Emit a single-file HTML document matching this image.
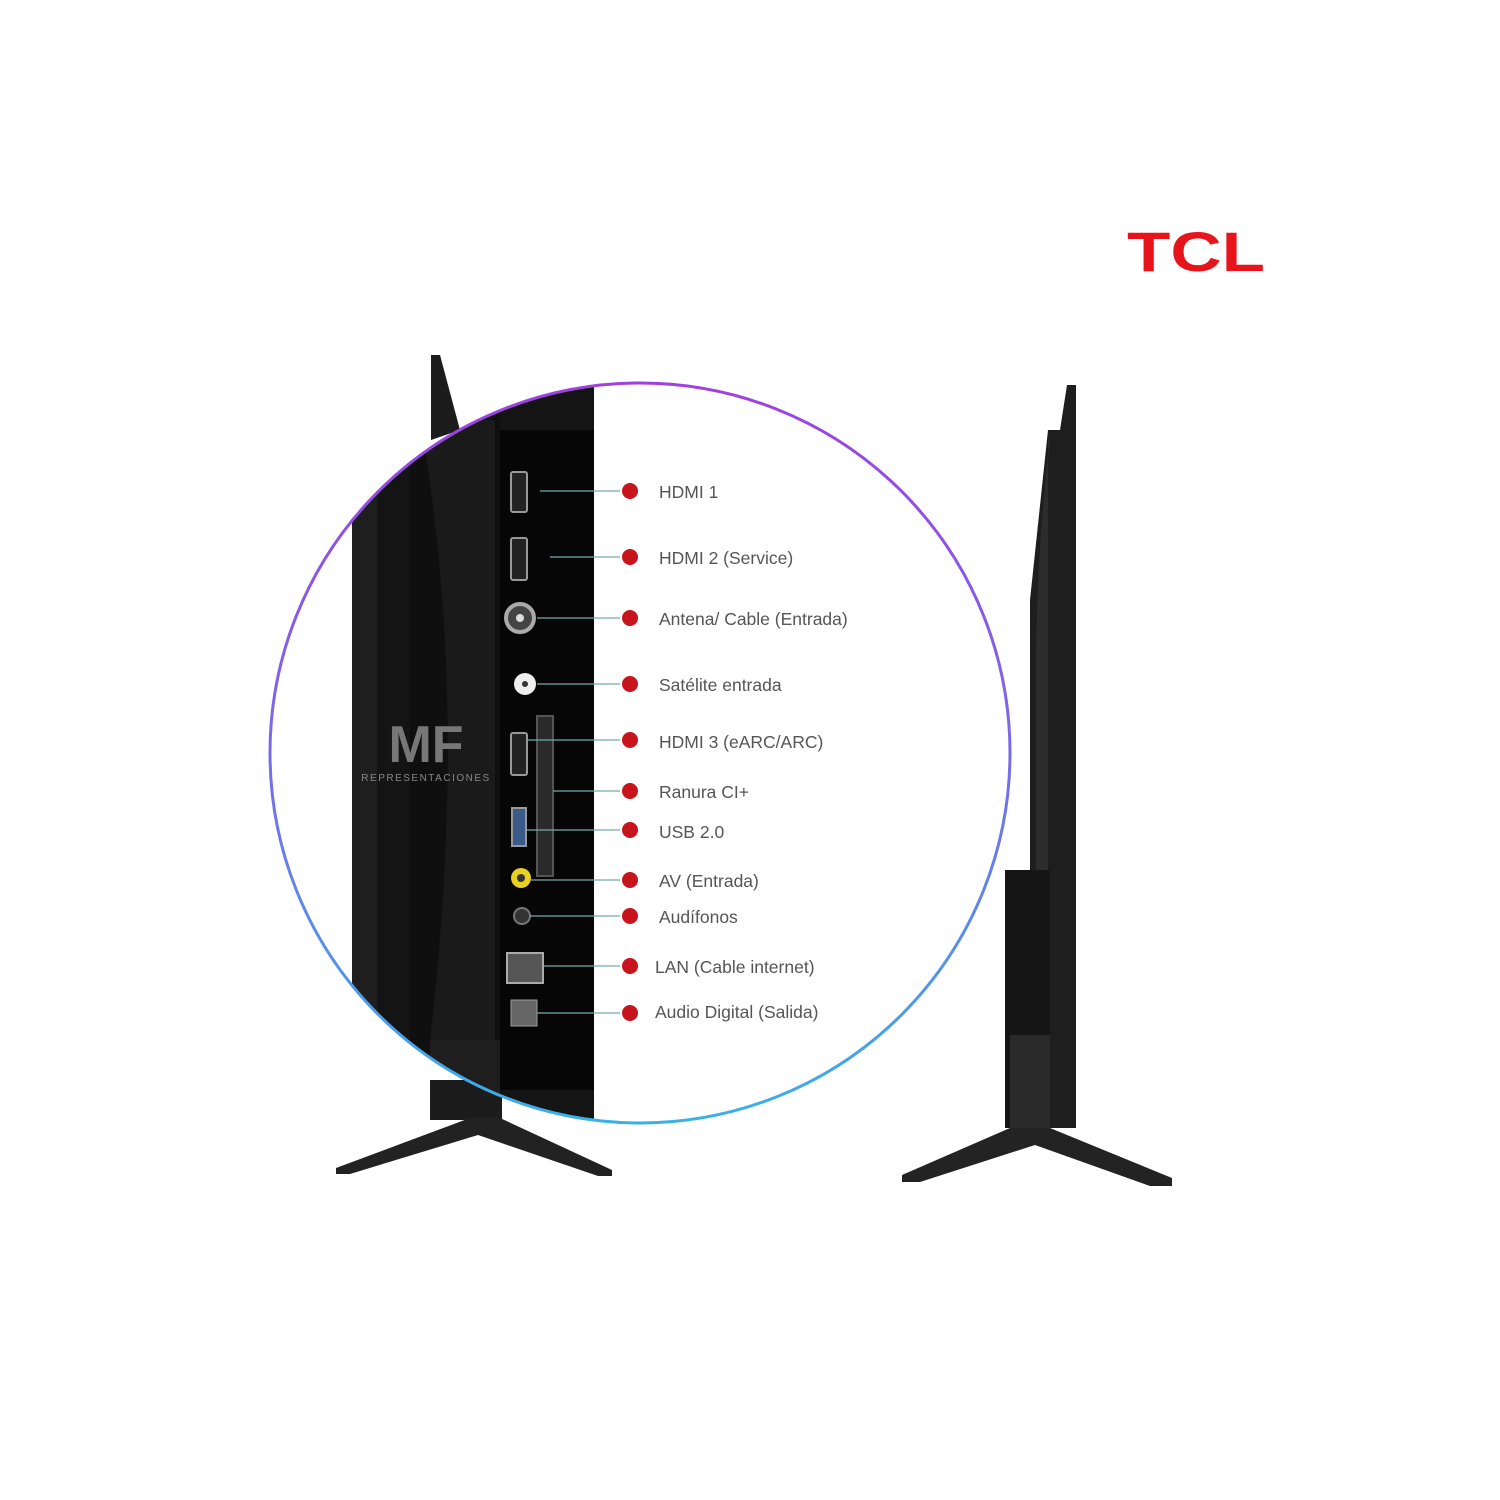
<!DOCTYPE html>
<html><head><meta charset="utf-8"><style>
html,body{margin:0;padding:0;background:#fff;width:1500px;height:1500px;overflow:hidden}
svg{display:block}
</style></head><body>
<svg width="1500" height="1500" viewBox="0 0 1500 1500" xmlns="http://www.w3.org/2000/svg">
<defs>
<linearGradient id="ring" x1="0" y1="0" x2="0" y2="1">
<stop offset="0" stop-color="#a040e0"/><stop offset="0.5" stop-color="#7a6ae8"/><stop offset="1" stop-color="#3ab0e8"/>
</linearGradient>
<clipPath id="cc"><circle cx="640" cy="753" r="370"/></clipPath>
</defs>
<text x="1196" y="271" text-anchor="middle" font-family="Liberation Sans, sans-serif" font-weight="bold" font-size="56" fill="#e8141c" textLength="138" lengthAdjust="spacingAndGlyphs">TCL</text>

<polygon points="431,355 440,355 460,430 431,440" fill="#1c1c1c"/>
<rect x="430" y="1080" width="72" height="40" fill="#1c1c1c"/>
<polygon points="336,1168 470,1118 500,1118 612,1170 612,1176 598,1176 478,1135 350,1174 336,1174" fill="#222"/>

<g clip-path="url(#cc)">
<path d="M352 1130 L352 500 Q390 440 470 410 L594 385 L594 1130 Z" fill="#141414"/>
<rect x="352" y="470" width="25" height="660" fill="#1e1e1e"/>
<rect x="410" y="400" width="90" height="730" fill="#0f0f0f"/>
<path d="M420 420 Q470 700 430 1040 L495 1040 L495 420 Z" fill="#1a1a1a"/>
<rect x="500" y="430" width="94" height="660" fill="#060606"/>
<rect x="430" y="1040" width="70" height="90" fill="#1e1e1e"/>
</g>
<circle cx="640" cy="753" r="370" fill="none" stroke="url(#ring)" stroke-width="3"/>

<g stroke="#999" fill="#222" stroke-width="2">
<rect x="511" y="472" width="16" height="40" rx="2"/>
<rect x="511" y="538" width="16" height="42" rx="2"/>
<rect x="511" y="733" width="16" height="42" rx="2"/>
<rect x="512" y="808" width="14" height="38" fill="#3a5a8a"/>
</g>
<circle cx="520" cy="618" r="14" fill="#444" stroke="#aaa" stroke-width="4"/>
<circle cx="520" cy="618" r="4" fill="#ddd"/>
<circle cx="525" cy="684" r="11" fill="#eee"/><circle cx="525" cy="684" r="3" fill="#333"/>
<circle cx="521" cy="878" r="10" fill="#e6d020"/><circle cx="521" cy="878" r="4" fill="#333"/>
<circle cx="522" cy="916" r="8" fill="#333" stroke="#777" stroke-width="2"/>
<rect x="507" y="953" width="36" height="30" fill="#555" stroke="#aaa" stroke-width="2"/>
<rect x="511" y="1000" width="26" height="26" fill="#666" stroke="#999" stroke-width="1"/>
<rect x="537" y="716" width="16" height="160" fill="#2a2a2a" stroke="#555" stroke-width="2"/>
<text x="426" y="762" text-anchor="middle" font-family="Liberation Sans, sans-serif" font-weight="bold" font-size="52" fill="#777">MF</text>
<text x="426" y="781" text-anchor="middle" font-family="Liberation Sans, sans-serif" font-size="10" letter-spacing="1.5" fill="#888">REPRESENTACIONES</text>

<g stroke="#7aa" stroke-width="1.2">
<line x1="540" y1="491" x2="620" y2="491"/>
<line x1="550" y1="557" x2="620" y2="557"/>
<line x1="537" y1="618" x2="620" y2="618"/>
<line x1="537" y1="684" x2="620" y2="684"/>
<line x1="527" y1="740" x2="620" y2="740"/>
<line x1="553" y1="791" x2="620" y2="791"/>
<line x1="527" y1="830" x2="620" y2="830"/>
<line x1="531" y1="880" x2="620" y2="880"/>
<line x1="530" y1="916" x2="620" y2="916"/>
<line x1="543" y1="966" x2="620" y2="966"/>
<line x1="537" y1="1013" x2="620" y2="1013"/>
</g>
<g font-family="Liberation Sans, sans-serif" font-size="17.5" fill="#555">
<g fill="#c8141c"><circle cx="630" cy="491" r="8"/><circle cx="630" cy="557" r="8"/><circle cx="630" cy="618" r="8"/><circle cx="630" cy="684" r="8"/><circle cx="630" cy="740" r="8"/><circle cx="630" cy="791" r="8"/><circle cx="630" cy="830" r="8"/><circle cx="630" cy="880" r="8"/><circle cx="630" cy="916" r="8"/><circle cx="630" cy="966" r="8"/><circle cx="630" cy="1013" r="8"/></g>
<text x="659" y="498">HDMI 1</text>
<text x="659" y="564">HDMI 2 (Service)</text>
<text x="659" y="625">Antena/ Cable (Entrada)</text>
<text x="659" y="691">Satélite entrada</text>
<text x="659" y="748">HDMI 3 (eARC/ARC)</text>
<text x="659" y="798">Ranura CI+</text>
<text x="659" y="838">USB 2.0</text>
<text x="659" y="887">AV (Entrada)</text>
<text x="659" y="923">Audífonos</text>
<text x="655" y="973">LAN (Cable internet)</text>
<text x="655" y="1018">Audio Digital (Salida)</text>
</g>

<polygon points="1067,385 1076,385 1076,1128 1050,1128 1050,1020 1030,1020 1030,600 1048,430 1060,430" fill="#1e1e1e"/>
<path d="M1050 440 Q1035 560 1036 700 L1036 1010 L1048 1010 L1048 440 Z" fill="#2c2c2c"/>
<rect x="1005" y="870" width="45" height="258" fill="#151515"/>
<rect x="1010" y="1035" width="40" height="93" fill="#2a2a2a"/>
<polygon points="902,1175 1010,1128 1050,1128 1172,1178 1172,1186 1150,1186 1035,1145 920,1182 902,1182" fill="#232323"/>
</svg>
</body></html>
